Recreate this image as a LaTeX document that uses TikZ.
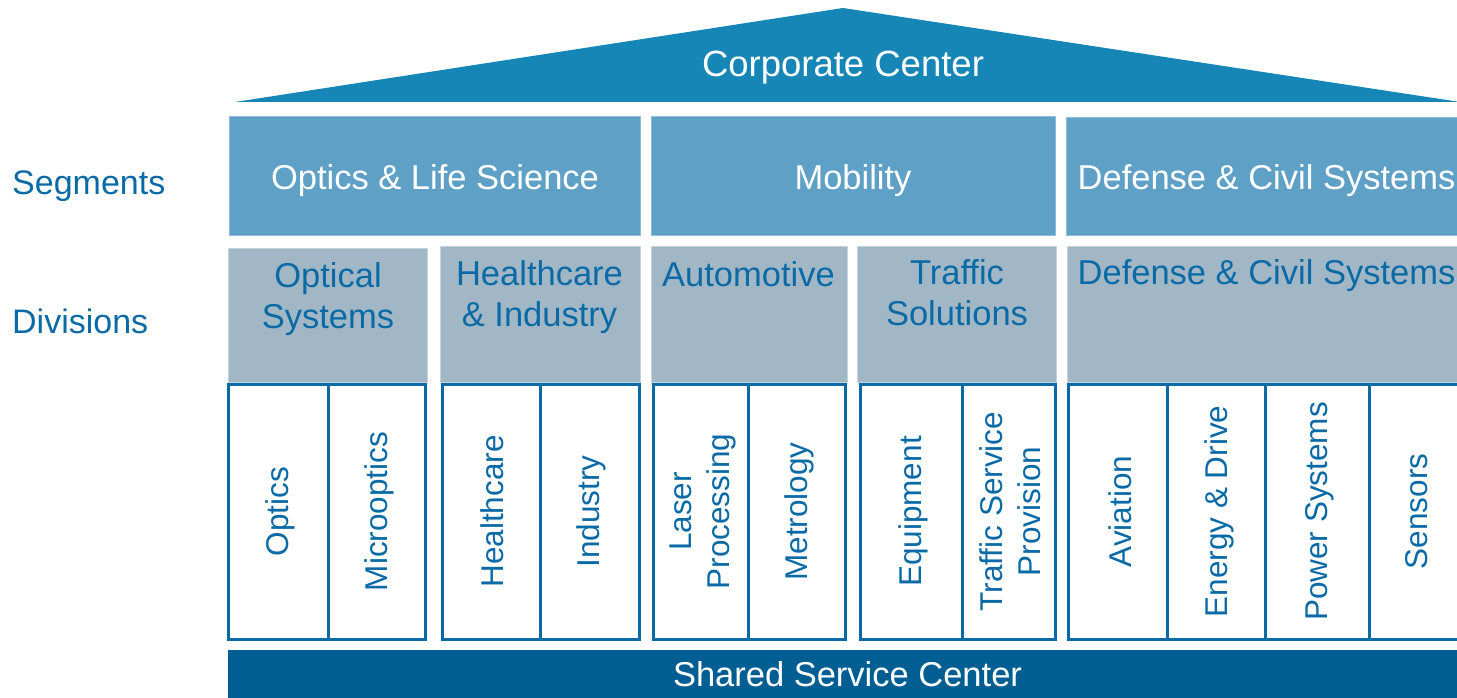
\documentclass[tikz,border=0pt]{standalone}
\usepackage{fontspec}
\setmainfont{Liberation Sans}
\definecolor{roofc}{HTML}{1586B6}
\definecolor{segc}{HTML}{5FA0C6}
\definecolor{segedge}{HTML}{8FBCD8}
\definecolor{divc}{HTML}{A2B7C6}
\definecolor{divedge}{HTML}{C4D3DE}
\definecolor{barc}{HTML}{005E92}
\definecolor{bluetext}{HTML}{0A6AA6}
\definecolor{blueline}{HTML}{0A6AA6}
\begin{document}
\begin{tikzpicture}[x=1pt,y=-1pt,
  segbox/.style={fill=segc,draw=segedge,line width=0.8pt},
  divbox/.style={fill=divc,draw=divedge,line width=0.8pt},
  unitbox/.style={fill=white,draw=blueline,line width=3pt},
  unitline/.style={draw=blueline,line width=3pt},
  whitetext/.style={text=white,font=\fontsize{34.5}{40}\selectfont,inner sep=0pt,anchor=base},
  sidetext/.style={text=bluetext,font=\fontsize{34}{40}\selectfont,inner sep=0pt,anchor=base west},
  divtext/.style={text=bluetext,font=\fontsize{34.5}{41}\selectfont,inner sep=0pt,anchor=north,align=center},
  unittext/.style={text=bluetext,font=\fontsize{31.5}{38}\selectfont,inner sep=0pt,rotate=90,align=center}]
\useasboundingbox (0,0) rectangle (1457,698);
\clip (0,0) rectangle (1457,698);

% roof
\fill[roofc] (235,102) -- (843,8) -- (1460,102) -- cycle;
\node[whitetext,font=\fontsize{36.5}{40}\selectfont] (corp) at (843,77) {Corporate Center};

% side labels
\node[sidetext] (lseg) at (12,194) {Segments};
\node[sidetext] (ldiv) at (12,333) {Divisions};

% segments
\path[segbox] (229.5,116.5) rectangle (640.5,235);
\path[segbox] (651,116.5) rectangle (1055,235);
\path[segbox] (1066.5,117.5) rectangle (1470,235.5);
\node[whitetext] (seg1) at (435,189.5) {Optics \& Life Science};
\node[whitetext] (seg2) at (853,189.5) {Mobility};
\node[whitetext] (seg3) at (1266.5,189.5) {Defense \& Civil Systems};

% divisions
\path[divbox] (228,248.5) rectangle (427,382);
\path[divbox] (440.5,246.5) rectangle (640.5,382);
\path[divbox] (651,246.5) rectangle (847.5,382);
\path[divbox] (857.5,246.5) rectangle (1056,382);
\path[divbox] (1067,246.5) rectangle (1470,382);
\node[divtext] (div1) at (328,262.5) {Optical\\Systems};
\node[divtext] (div2) at (539.5,260) {Healthcare\\\& Industry};
\node[divtext] (div3) at (748.5,261) {Automotive};
\node[divtext] (div4) at (957,259.5) {Traffic\\Solutions};
\node[divtext] (div5) at (1266.5,259) {Defense \& Civil Systems};

% units
\path[unitbox] (228.2,384.2) rectangle (425.2,639.5);
\draw[unitline] (328.3,384.2) -- (328.3,639.5);
\path[unitbox] (442.2,384.2) rectangle (639.2,639.5);
\draw[unitline] (540,384.2) -- (540,639.5);
\path[unitbox] (653.2,384.2) rectangle (845.5,639.5);
\draw[unitline] (748,384.2) -- (748,639.5);
\path[unitbox] (860,384.2) rectangle (1055,639.5);
\draw[unitline] (962.5,384.2) -- (962.5,639.5);
\path[unitbox] (1068.5,384.2) rectangle (1475,639.5);
\draw[unitline] (1167.6,384.2) -- (1167.6,639.5);
\draw[unitline] (1265.5,384.2) -- (1265.5,639.5);
\draw[unitline] (1369.6,384.2) -- (1369.6,639.5);

\node[unittext] (u1) at (280,511.5) {Optics};
\node[unittext] (u2) at (379,511.5) {Microoptics};
\node[unittext] (u3) at (492.5,511.5) {Healthcare};
\node[unittext] (u4) at (591.5,511.5) {Industry};
\node[unittext] (u5) at (703,511.5) {Laser\\Processing};
\node[unittext] (u6) at (799,511.5) {Metrology};
\node[unittext] (u7) at (913,511.5) {Equipment};
\node[unittext] (u8) at (1010.5,511.5) {Traffic Service\\Provision};
\node[unittext] (u9) at (1120,511.5) {Aviation};
\node[unittext] (u10) at (1219,511.5) {Energy \& Drive};
\node[unittext] (u11) at (1319.5,511.5) {Power Systems};
\node[unittext] (u12) at (1417,511.5) {Sensors};

% shared service bar
\fill[barc] (228.3,649.5) rectangle (1470,700);
\node[whitetext,font=\fontsize{34.5}{40}\selectfont] (ssc) at (847.5,686) {Shared Service Center};
\end{tikzpicture}
\end{document}
